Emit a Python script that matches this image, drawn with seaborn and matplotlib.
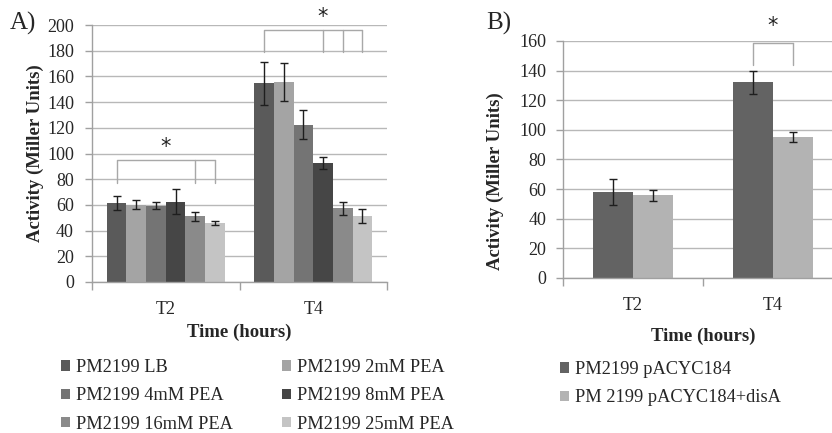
import matplotlib
matplotlib.use('Agg')
import matplotlib.pyplot as plt
import seaborn as sns
import pandas as pd
from matplotlib.patches import Patch

# ---------------- data ----------------
times = ['T2', 'T4']

conds_a = ['PM2199 LB', 'PM2199 2mM PEA', 'PM2199 4mM PEA',
           'PM2199 8mM PEA', 'PM2199 16mM PEA', 'PM2199 25mM PEA']
vals_a_t2 = [61.5, 60.0, 59.5, 62.5, 51.0, 46.0]
vals_a_t4 = [154.5, 155.5, 122.5, 92.5, 57.5, 51.5]
err_a_t2 = [5.5, 3.5, 3.0, 9.5, 3.5, 1.5]
err_a_t4 = [17.0, 15.0, 11.0, 4.5, 5.0, 5.5]
colors_a = ['#5a5a5a', '#a4a4a4', '#747474', '#464646', '#8a8a8a', '#c4c4c4']

conds_b = ['PM2199 pACYC184', 'PM 2199 pACYC184+disA']
vals_b_t2 = [58.0, 55.8]
vals_b_t4 = [132.0, 95.0]
err_b_t2 = [9.0, 3.5]
err_b_t4 = [7.5, 3.5]
colors_b = ['#636363', '#b3b3b3']

# significance brackets: (time, from condition, to conditions, top, bottom, star height)
brackets_a = [
    ('T2', 'PM2199 LB', ['PM2199 16mM PEA', 'PM2199 25mM PEA'], 95, 77, 105),
    ('T4', 'PM2199 LB', ['PM2199 8mM PEA', 'PM2199 16mM PEA', 'PM2199 25mM PEA'], 196, 179, 206),
]
brackets_b = [
    ('T4', 'PM2199 pACYC184', ['PM 2199 pACYC184+disA'], 158.8, 144, 170),
]

# ---------------- style ----------------
sns.set_theme(style='white')
plt.rcParams['font.family'] = ['Liberation Serif', 'DejaVu Serif']

W, H = 832, 433
fig = plt.figure(figsize=(W / 100, H / 100), dpi=100)

GRID = '#b8b8b8'
AXC = '#a0a0a0'
BRK = '#a8a8a8'


def make_df(conds, v2, v4, e2, e4):
    rows = []
    for c, a, b, ea, eb in zip(conds, v2, v4, e2, e4):
        rows.append({'time': 'T2', 'cond': c, 'value': a, 'err': ea})
        rows.append({'time': 'T4', 'cond': c, 'value': b, 'err': eb})
    return pd.DataFrame(rows)


def panel(ax, df, conds, colors, width, ymax, ystep, brackets, ypad, star_dx):
    sns.barplot(data=df, x='time', y='value', hue='cond', order=times,
                hue_order=conds, palette=colors, width=width, errorbar=None,
                saturation=1, linewidth=0, legend=False, ax=ax)
    centers = {}
    for cond, cont in zip(conds, ax.containers):
        for t, p in zip(times, cont.patches):
            centers[(t, cond)] = (p.get_x() + p.get_width() / 2, p.get_height())
    xs, ys, es = [], [], []
    for _, r in df.iterrows():
        x, h = centers[(r['time'], r['cond'])]
        xs.append(x); ys.append(h); es.append(r['err'])
    ax.errorbar(xs, ys, yerr=es, fmt='none', ecolor='#1e1e1e',
                elinewidth=1.0, capsize=2.6, capthick=1.0, zorder=5)
    for (t, c0, cends, top, bot, star), dx in zip(brackets, star_dx):
        x0 = centers[(t, c0)][0]
        xe = [centers[(t, c)][0] for c in cends]
        ax.plot([x0, x0, xe[-1]], [bot, top, top], color=BRK, lw=1.0,
                clip_on=False, zorder=4)
        for x in xe:
            ax.plot([x, x], [top, bot], color=BRK, lw=1.0, clip_on=False, zorder=4)
        ax.text((x0 + xe[-1]) / 2 + dx, star, '*', ha='center', va='center',
                fontsize=15, color='#222222', family='DejaVu Sans')
    ax.set_xlim(-0.5, 1.5)
    ax.set_ylim(0, ymax)
    ax.set_yticks(range(0, ymax + 1, ystep))
    ax.grid(axis='y', color=GRID, lw=1.0)
    ax.grid(axis='x', visible=False)
    ax.set_axisbelow(True)
    for s in ['top', 'right']:
        ax.spines[s].set_visible(False)
    for s in ['left', 'bottom']:
        ax.spines[s].set_color(AXC)
        ax.spines[s].set_linewidth(1.0)
    ax.set_xticks([-0.5, 0.5, 1.5], minor=True)
    ax.tick_params(axis='x', which='minor', length=6, color=AXC, width=1,
                   direction='out', bottom=True)
    ax.tick_params(axis='x', which='major', length=0, pad=14, labelsize=13)
    ax.tick_params(axis='y', length=5, color=AXC, width=1, direction='out',
                   left=True, labelsize=13, pad=ypad)
    ax.set_xlabel('Time (hours)', fontsize=13.5, fontweight='bold')
    ax.set_ylabel('Activity (Miller Units)', fontsize=13.5, fontweight='bold')


# ---------------- panel A ----------------
axA = fig.add_axes([92 / W, (H - 282) / H, 295 / W, 257 / H])
dfA = make_df(conds_a, vals_a_t2, vals_a_t4, err_a_t2, err_a_t4)
panel(axA, dfA, conds_a, colors_a, 0.8, 200, 20, brackets_a, 8, [0.0, 0.06])
axA.yaxis.set_label_coords(-0.193, 0.5)
axA.xaxis.set_label_coords(0.5, -0.195)

# ---------------- panel B ----------------
axB = fig.add_axes([563 / W, (H - 278) / H, 280 / W, 237 / H])
dfB = make_df(conds_b, vals_b_t2, vals_b_t4, err_b_t2, err_b_t4)
panel(axB, dfB, conds_b, colors_b, 0.57, 160, 20, brackets_b, 7, [0.0])
axB.yaxis.set_label_coords(-0.243, 0.41)
axB.xaxis.set_label_coords(0.5, -0.245)

for ax in (axA, axB):
    ax.xaxis.label.set_va('center')
    ax.yaxis.label.set_va('center')

fig.text(10 / W, 1 - 23 / H, 'A)', fontsize=18, ha='left', va='center')
fig.text(486 / W, 1 - 23 / H, 'B)', fontsize=18, ha='left', va='center')

# ---------------- legends ----------------
def add_legend(labels, colors, x_px, y_top_px):
    handles = [Patch(facecolor=c, edgecolor='none') for c in colors]
    fig.legend(handles, labels, loc='upper left',
               bbox_to_anchor=(x_px / W, 1 - y_top_px / H),
               frameon=False, fontsize=13.2, handlelength=0.5,
               handleheight=0.5, handletextpad=0.3, labelspacing=0.62,
               borderpad=0, borderaxespad=0)

add_legend([conds_a[0], conds_a[2], conds_a[4]],
           [colors_a[0], colors_a[2], colors_a[4]], 61, 359)
add_legend([conds_a[1], conds_a[3], conds_a[5]],
           [colors_a[1], colors_a[3], colors_a[5]], 282, 359)
add_legend(conds_b, colors_b, 560, 361)

fig.savefig('out.png', dpi=100)
